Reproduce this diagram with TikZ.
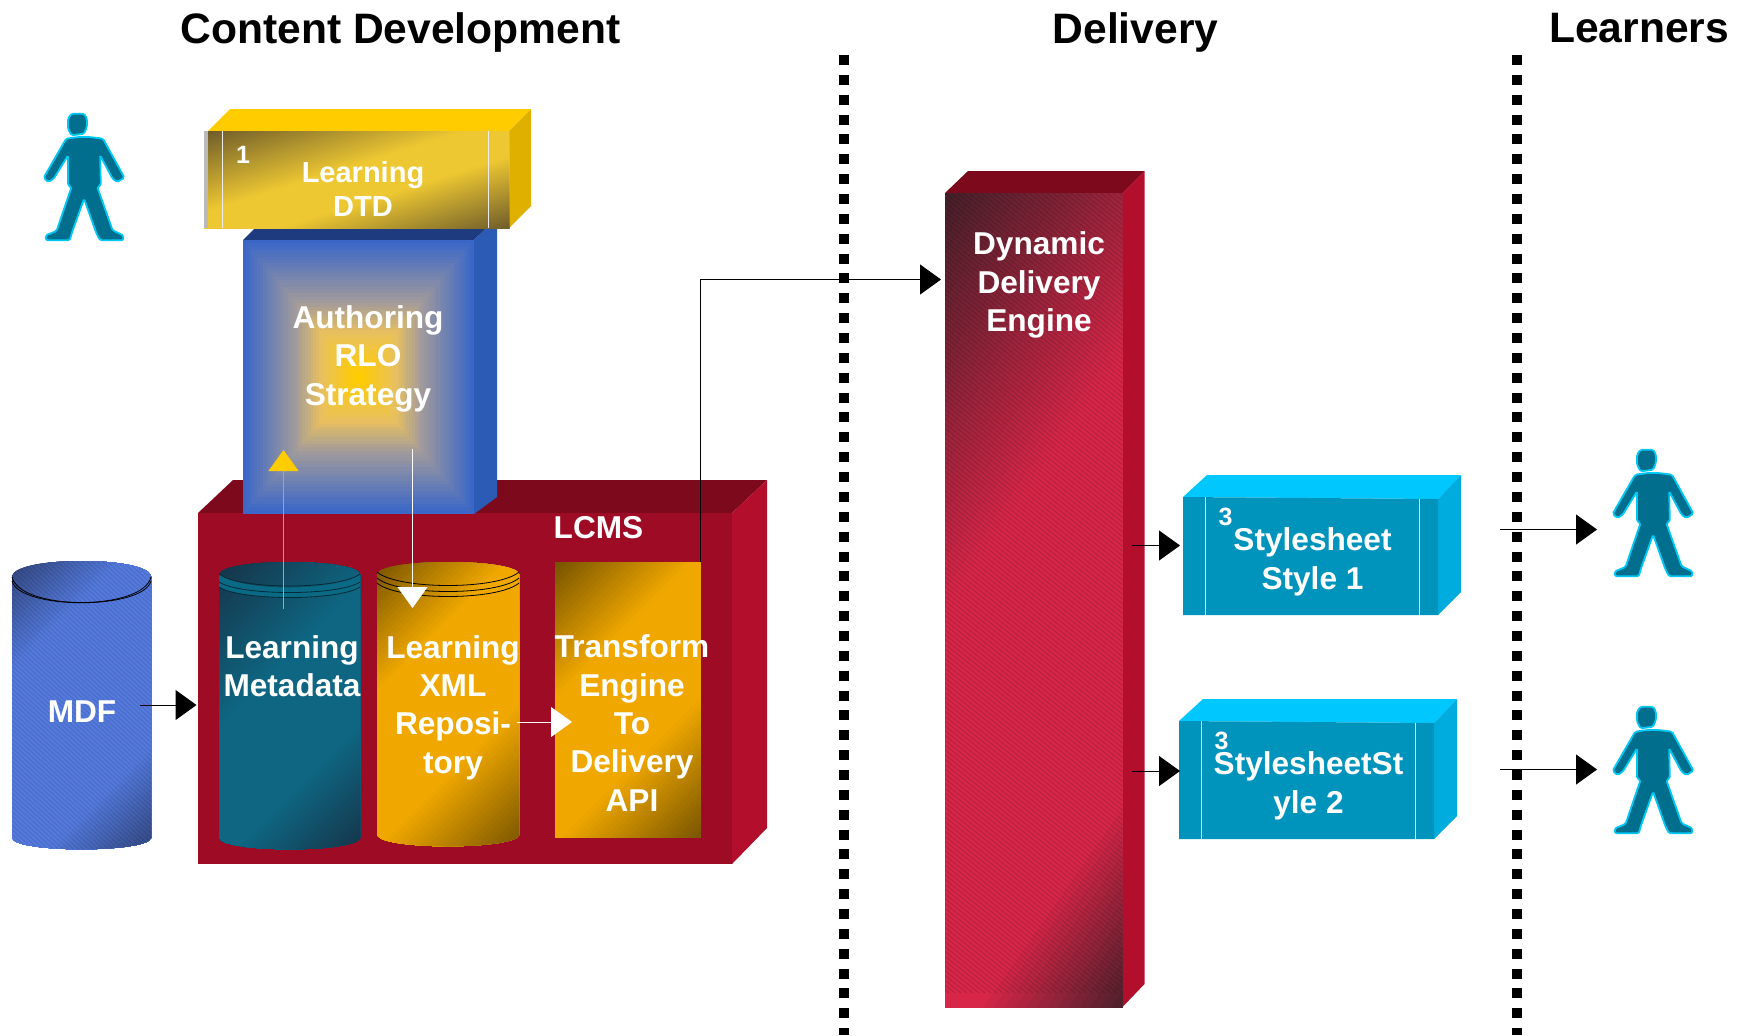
\documentclass[tikz,border=0pt]{standalone}
\usepackage{fontspec}
\setmainfont{Liberation Sans}
\usetikzlibrary{arrows.meta}
\definecolor{lcmsfront}{HTML}{9E0B25}
\definecolor{wine}{HTML}{7D0A1C}
\definecolor{crimsonside}{HTML}{B30E2C}
\definecolor{goldtop}{HTML}{FFCC00}
\definecolor{goldside}{HTML}{E0B000}
\definecolor{bluetop}{HTML}{1F3B7F}
\definecolor{blueside}{HTML}{2C5BB5}
\definecolor{bluefront}{HTML}{3A66C8}
\definecolor{ringB}{HTML}{A09A9C}
\definecolor{ringC}{HTML}{E8C060}
\definecolor{cyantop}{HTML}{00C8FF}
\definecolor{cyanfront}{HTML}{0093BB}
\definecolor{cyanside}{HTML}{00ABDD}
\definecolor{personfill}{HTML}{006E8C}
\definecolor{personline}{HTML}{00C8F5}
\definecolor{tealmid}{HTML}{0A6A85}
\definecolor{arrowamber}{HTML}{E0A010}
\definecolor{dtddark}{HTML}{6E5C2A}
\definecolor{dtdmid}{HTML}{EEC832}
\definecolor{dyndark}{HTML}{46202A}
\definecolor{dynmid}{HTML}{D72648}
\definecolor{mdfdark}{HTML}{32467D}
\definecolor{mdfmid}{HTML}{547ADE}
\definecolor{tealdark}{HTML}{163448}
\definecolor{tealbright}{HTML}{0E6682}
\definecolor{amberdark}{HTML}{785400}
\definecolor{ambermid}{HTML}{F0A800}
% banded diagonal gradient: x0,y0,w,h,angle,dark,mid,stopA,stopB (the current clip holds the shape)
\newcommand{\diagfill}[9]{%
  \pgfmathsetmacro{\gNx}{cos(#5)}%
  \pgfmathsetmacro{\gNy}{sin(#5)}%
  \pgfmathsetmacro{\gExt}{\gNx*#3+\gNy*#4}%
  \foreach \j in {0,...,70}{%
    \pgfmathsetmacro{\gT}{\j/70}%
    \pgfmathsetmacro{\gM}{100*min(1,min(\gT/#8,(1-\gT)/(1-#9)))}%
    \pgfmathsetmacro{\gPx}{#1+\gT*\gExt*\gNx}%
    \pgfmathsetmacro{\gPy}{#2+\gT*\gExt*\gNy}%
    \fill[#7!\gM!#6] (\gPx-1400*\gNy,\gPy+1400*\gNx) -- (\gPx+1400*\gNy,\gPy-1400*\gNx)
      -- (\gPx+1400*\gNy+1400*\gNx,\gPy-1400*\gNx+1400*\gNy)
      -- (\gPx-1400*\gNy+1400*\gNx,\gPy+1400*\gNx+1400*\gNy) -- cycle;
  }%
}
\tikzset{
  title/.style={font=\bfseries\fontsize{21.3}{25}\selectfont,text=black,inner sep=0pt,anchor=center},
  label/.style={font=\bfseries\fontsize{15.8}{19.2}\selectfont,text=white,align=center,inner sep=0pt,anchor=center},
  smalllabel/.style={font=\bfseries\fontsize{14.5}{17.3}\selectfont,text=white,align=center,inner sep=0pt,anchor=center},
  digit/.style={font=\bfseries\fontsize{12.5}{14}\selectfont,text=white,inner sep=0pt,anchor=center},
  flow/.style={line width=.5pt,draw=black,-{Triangle[length=10.5pt,width=15pt]}},
  whiteflow/.style={line width=.5pt,draw=white,-{Triangle[length=10.5pt,width=15pt]}},
  amberflow/.style={line width=.5pt,draw=arrowamber,-{Triangle[length=10.5pt,width=15pt,color=goldtop]}},
  divider/.style={line width=5pt,draw=black,dash pattern=on 5pt off 4.93pt},
  stripe/.style={line width=.55pt,draw=black,opacity=.13},
  innerline/.style={line width=.5pt,draw=white!85!gray},
  person/.pic={
    \begin{scope}[xscale=.357,yscale=.3333,shift={(-120,-68)}]
      \draw[fill=personfill,draw=personline,line width=.9pt,rounded corners=.8pt]
        (190,85)--(200,70)--(235,70)--(243,85)--(243,110)--(235,130)--(200,135)--(190,115)--cycle
        (185,145)--(220,140)--(250,140)--(288,145)--(348,262)--(328,275)--(315,265)--(280,195)--(282,285)--(272,290)--(315,420)--(345,435)--(345,450)--(280,450)--(270,430)--(235,325)--(200,430)--(195,450)--(128,450)--(128,435)--(158,422)--(200,290)--(190,285)--(190,195)--(150,265)--(135,275)--(122,262)--cycle;
    \end{scope}
  }
}
\begin{document}
\begin{tikzpicture}[x=.5pt,y=-.5pt]
\useasboundingbox (0,0) rectangle (1744,1035);

% dividers
\coordinate (divAtop) at (844,55); \coordinate (divAbot) at (844,1035);
\coordinate (divBtop) at (1517,55);  \coordinate (divBbot) at (1517,1035);
\draw[divider] (divAtop) -- (divAbot);
\draw[divider] (divBtop) -- (divBbot);

% titles
\node[title] (tcontent) at (400.5,32) {Content Development};
\node[title] (tdelivery) at (1135.5,32) {Delivery};
\node[title] (tlearners) at (1639,28) {Learners};

% people
\pic at (43,113) {person};
\pic at (1612,449) {person};
\pic at (1612,706) {person};

% LCMS
\fill[wine] (198,513) -- (233,480) -- (767,480) -- (732,513) -- cycle;
\fill[crimsonside] (732,513) -- (767,480) -- (767,828) -- (732,864) -- cycle;
\fill[lcmsfront] (198,513) rectangle (732,864);

% Authoring box
\fill[bluetop] (243,240) -- (265,218) -- (497,218) -- (474,240) -- cycle;
\fill[blueside] (474,240) -- (497,218) -- (497,497) -- (474,514) -- cycle;
\foreach \i in {0,...,40}{
  \pgfmathsetmacro{\fx}{115.5*(1-\i/41)}
  \pgfmathsetmacro{\fy}{137*(1-\i/41)}
  \pgfmathsetmacro{\ringS}{\i/40}
  \ifdim \ringS pt<.45pt
    \pgfmathsetmacro{\ringP}{100*\ringS/.45}
    \colorlet{ringcol}{ringB!\ringP!bluefront}
  \else
    \ifdim \ringS pt<.68pt
      \pgfmathsetmacro{\ringP}{100*(\ringS-.45)/.23}
      \colorlet{ringcol}{ringC!\ringP!ringB}
    \else
      \pgfmathsetmacro{\ringP}{100*(\ringS-.68)/.32}
      \colorlet{ringcol}{goldtop!\ringP!ringC}
    \fi
  \fi
  \fill[ringcol] (358.5-\fx,377-\fy) rectangle (358.5+\fx,377+\fy);
}

% Learning DTD box
\fill[goldtop] (208,131) -- (230,109) -- (531,109) -- (509,131) -- cycle;
\fill[goldside] (509,131) -- (531,109) -- (531,206) -- (509,228) -- cycle;
\begin{scope}
  \clip (204,131) rectangle (509,228);
  \diagfill{204}{131}{305}{97}{72.7}{dtddark}{dtdmid}{.42}{.62}
\end{scope}
\fill[gray!55] (204,131) rectangle (208,228);
\draw[innerline] (222.5,131) -- (222.5,228);
\draw[innerline] (488,131) -- (488,228);

% Dynamic delivery box
\fill[wine] (945,193) -- (968,171) -- (1144.5,171) -- (1122.5,193) -- cycle;
\fill[crimsonside] (1122.5,193) -- (1144.5,171) -- (1144.5,984) -- (1122.5,1007) -- cycle;
\begin{scope}
  \clip (945,193) rectangle (1122.5,1007);
  \diagfill{945}{193}{177.5}{814}{35}{dyndark}{dynmid}{.38}{.8}
  \foreach \k in {0,6,...,1230}{
    \draw[stripe] (\k+945-1050,193) -- ++(1000,800);
  }
\end{scope}

% Stylesheet boxes
\fill[cyantop] (1183,497) -- (1207,475) -- (1461,475) -- (1438,499) -- cycle;
\fill[cyanside] (1438,499) -- (1461,475) -- (1461,592) -- (1438,615) -- cycle;
\fill[cyanfront] (1183,497) -- (1438,499) -- (1438,615) -- (1183,615) -- cycle;
\draw[innerline] (1205,497) -- (1205,615);
\draw[innerline] (1419,499) -- (1419,615);

\fill[cyantop] (1179,721) -- (1203,699) -- (1457,699) -- (1434,723) -- cycle;
\fill[cyanside] (1434,723) -- (1457,699) -- (1457,816) -- (1434,839) -- cycle;
\fill[cyanfront] (1179,721) -- (1434,723) -- (1434,839) -- (1179,839) -- cycle;
\draw[innerline] (1201,721) -- (1201,839);
\draw[innerline] (1415,723) -- (1415,839);

% MDF cylinder
\begin{scope}
  \clip (12,576) .. controls (16,556) and (147,556) .. (151,576) -- (151,838) .. controls (147,853) and (16,853) .. (12,838) -- cycle;
  \diagfill{12}{561}{139}{288}{45}{mdfdark}{mdfmid}{.25}{.75}
  \foreach \k in {0,5,...,450}{
    \draw[stripe,opacity=.1] (\k-300,555) -- ++(330,300);
  }
\end{scope}
\draw[black,line width=.4pt] (12,577) .. controls (20,611) and (143,611) .. (151,577);
\draw[black,line width=.4pt] (12,581) .. controls (20,610) and (143,610) .. (151,581);

% Metadata cylinder
\begin{scope}
  \clip (219,574) .. controls (224,558) and (355,558) .. (360,574) -- (360,838) .. controls (355,853) and (224,853) .. (219,838) -- cycle;
  \diagfill{219}{562}{141}{287}{45}{tealdark}{tealbright}{.38}{.7}
\end{scope}
\fill[tealmid] (219,574) .. controls (240,592) and (339,592) .. (360,574) -- (360,587) .. controls (339,601) and (240,601) .. (219,587) -- cycle;
\draw[black!60!tealmid,line width=.4pt] (219,574) .. controls (240,590) and (339,590) .. (360,574);
\draw[black!60!tealmid,line width=.4pt] (219,582) .. controls (240,596) and (339,596) .. (360,582);
\draw[black!60!tealmid,line width=.4pt] (219,587) .. controls (240,601) and (339,601) .. (360,587);

% Repository cylinder
\begin{scope}
  \clip (377,574) .. controls (382,558) and (514,558) .. (519,574) -- (519,835) .. controls (514,850) and (382,850) .. (377,835) -- cycle;
  \diagfill{377}{562}{142}{284}{45}{amberdark}{ambermid}{.3}{.66}
\end{scope}
\draw[black,line width=.4pt] (377,572) .. controls (398,590) and (498,590) .. (519,572);
\draw[black,line width=.4pt] (377,578) .. controls (398,596) and (498,596) .. (519,578);
\draw[black,line width=.4pt] (377,583) .. controls (398,601) and (498,601) .. (519,583);

% Transform rectangle
\begin{scope}
  \clip (555,562) rectangle (700.5,837);
  \diagfill{555}{562}{145.5}{275}{45}{amberdark}{ambermid}{.32}{.66}
\end{scope}

% labels
\node[smalllabel] (ndtd) at (363,189) {Learning\\DTD};
\node[digit] (ndtdnum) at (243,155) {1};
\node[label] (nauth) at (368,358.5) {Authoring\\RLO\\Strategy};
\node[label] (nlcms) at (598.5,528) {LCMS};
\node[label] (nmdf) at (82,712) {MDF};
\node[label] (nmeta) at (292,666) {Learning\\Metadata};
\node[label] (nrepo) at (453,707.5) {Learning\\XML\\Reposi-\\tory};
\node[label] (ntrans) at (632,723) {Transform\\Engine\\To\\Delivery\\API};
\node[label] (ndyn) at (1039,285) {Dynamic\\Delivery\\Engine};
\node[label] (nstyleA) at (1312.5,562) {Stylesheet\\Style 1};
\node[digit] (nstyleAnum) at (1225.5,517) {3};
\node[label] (nstyleB) at (1308.5,786) {StylesheetSt\\yle 2};
\node[digit] (nstyleBnum) at (1221.5,741) {3};

% connector ends
\coordinate (mdfout) at (140,705);      \coordinate (lcmsin) at (196.5,705);
\coordinate (metaout) at (283.5,609);   \coordinate (authin) at (283.5,450);
\coordinate (authout) at (412.5,449);   \coordinate (repoin) at (412.5,608);
\coordinate (repoout) at (517,722);     \coordinate (transin) at (572,722);
\coordinate (transout) at (700,562);    \coordinate (dynin) at (941,279.5);
\coordinate (dynoutA) at (1132,545.5);  \coordinate (styleAin) at (1180,545.5);
\coordinate (dynoutB) at (1132,771);    \coordinate (styleBin) at (1180,771);
\coordinate (styleAout) at (1500,529.5);\coordinate (learnAin) at (1597,529.5);
\coordinate (styleBout) at (1500,769.5);\coordinate (learnBin) at (1597,769.5);

% connectors
\draw[flow] (mdfout) -- (lcmsin);
\draw[amberflow] (metaout) -- (authin);
\draw[whiteflow] (authout) -- (repoin);
\draw[whiteflow] (repoout) -- (transin);
\draw[flow] (transout) |- (dynin);
\draw[flow] (dynoutA) -- (styleAin);
\draw[flow] (dynoutB) -- (styleBin);
\draw[flow] (styleAout) -- (learnAin);
\draw[flow] (styleBout) -- (learnBin);
\end{tikzpicture}
\end{document}
